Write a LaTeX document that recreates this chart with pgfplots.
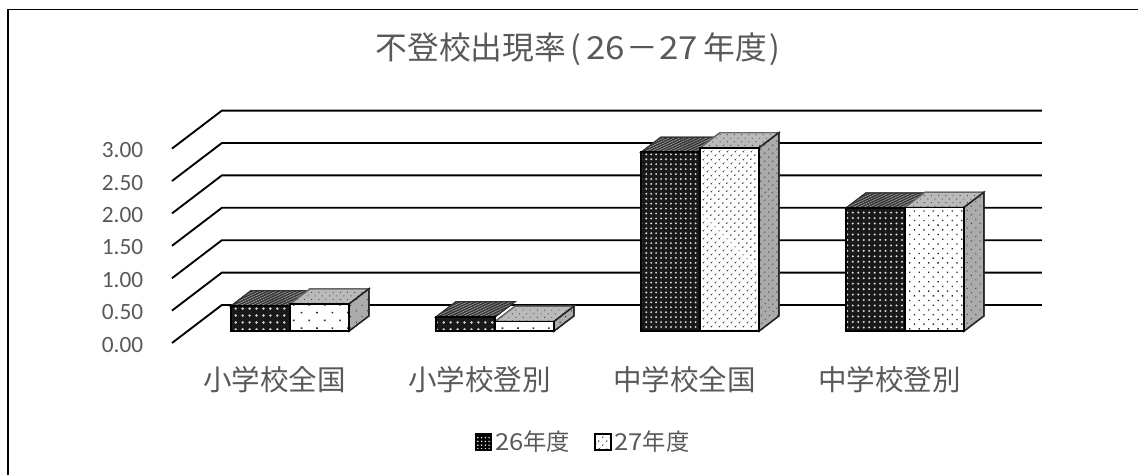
\documentclass[border=0pt]{standalone}
\usepackage{fontspec}
\usepackage{pgfplots}
\pgfplotsset{compat=1.18}
\usetikzlibrary{patterns.meta}
\setmainfont{Carlito}
\newfontfamily\cjk{Noto Sans CJK JP}
\newfontfamily\cjkwide[FakeStretch=1.1]{Noto Sans CJK JP}
\definecolor{txt}{HTML}{595959}

% oblique depth of the chart floor, in data units
\def\depthx{0.2433}
\def\depthy{0.5864}
% half a column's width in category units
\def\halfw{0.2876}

\newcommand{\shape}[2]{\addplot[forget plot,#1] coordinates {#2} --cycle;}

% one pair of columns: category, two values, dot spacing for dark, light and
% side faces, dot radius for dark and light faces
\newcommand{\barpair}[8]{%
  \pgfmathsetmacro\xa{#1+0.31*\depthx-\halfw}%
  \pgfmathsetmacro\xb{#1+0.31*\depthx}%
  \pgfmathsetmacro\xc{#1+0.31*\depthx+\halfw}%
  \pgfmathsetmacro\ya{0.31*\depthy}%
  \pgfmathsetmacro\ddx{0.4*\depthx}%
  \pgfmathsetmacro\ddy{0.4*\depthy}%
  \pgfmathsetmacro\ta{\ya+#2}%
  \pgfmathsetmacro\tb{\ya+#3}%
  \pgfmathsetmacro\xaa{\xa+\ddx}%
  \pgfmathsetmacro\xbb{\xb+\ddx}%
  \pgfmathsetmacro\xcc{\xc+\ddx}%
  \pgfmathsetmacro\taa{\ta+\ddy}%
  \pgfmathsetmacro\tbb{\tb+\ddy}%
  \pgfmathsetmacro\yaa{\ya+\ddy}%
  % top faces
  \shape{draw=black!80,line width=0.9pt,fill=black!80,postaction={pattern={Lines[angle=25,distance=1.7pt,line width=0.4pt]},pattern color=black!30}}
    {(\xa,\ta)(\xb,\ta)(\xbb,\taa)(\xaa,\taa)}
  \shape{draw=black!60,line width=0.9pt,fill=black!27,postaction={pattern={Dots[angle=45,distance=3.8pt,radius=0.5pt]},pattern color=black!70}}
    {(\xb,\tb)(\xc,\tb)(\xcc,\tbb)(\xbb,\tbb)}
  % side face
  \shape{draw=black!85,line width=1pt,fill=black!33,postaction={pattern={Dots[angle=45,distance=#6,radius=0.55pt]},pattern color=black!80}}
    {(\xc,\ya)(\xcc,\yaa)(\xcc,\tbb)(\xc,\tb)}
  % front faces
  \shape{draw=black,line width=1.4pt,fill=black!90,postaction={pattern={Dots[distance=#4,radius=#7]},pattern color=white!85!black}}
    {(\xa,\ya)(\xb,\ya)(\xb,\ta)(\xa,\ta)}
  \shape{draw=black,line width=1.1pt,fill=white,postaction={pattern={Dots[angle=45,distance=#5,radius=#8]},pattern color=black!85}}
    {(\xb,\ya)(\xc,\ya)(\xc,\tb)(\xb,\tb)}
}

\begin{document}
\begin{tikzpicture}
\path[use as bounding box] (-129pt,-99pt) rectangle (724.5pt,257.25pt);
% the frame runs along the left and top edges only
\draw[black,line width=1.3pt] (-123pt,-99pt) -- (-123pt,250.1pt) -- (724.5pt,250.1pt);
\begin{axis}[
  scale only axis,
  width=615pt,height=145.8pt,
  xmin=-0.5,xmax=3.5,ymin=0,ymax=3,
  clip=false,
  axis line style={draw=none},
  tick style={draw=none},
  major tick length=0pt,
  xtick={0,1,2,3},
  xticklabels={小学校全国,小学校登別,中学校全国,中学校登別},
  ytick={0,0.5,1,1.5,2,2.5,3},
  yticklabel style={
    /pgf/number format/fixed,
    /pgf/number format/fixed zerofill,
    /pgf/number format/precision=2,
    /pgf/number format/assume math mode=true,
    font=\fontsize{17.5pt}{20pt}\selectfont,text=txt,anchor=east,xshift=-18pt,yshift=-1.2pt},
  xticklabel style={font=\cjk\fontsize{21.4pt}{24pt}\selectfont,text=txt,anchor=center,yshift=-27.6pt},
  title={\cjk 不登校出現率\kern3pt(\kern4pt{\cjkwide 26}\kern1pt\symbol{"FF0D}\kern1pt{\cjkwide 27}\kern4pt年度\kern2pt)},
  title style={font=\fontsize{23.8pt}{26pt}\selectfont,text=txt,at={(axis description cs:0.495,1.0)},anchor=center,yshift=68.5pt},
  legend style={at={(axis description cs:0.502,-0.51)},anchor=center,draw=none,fill=none,
    font=\fontsize{17.5pt}{20pt}\selectfont,text=txt,legend columns=2,
    /tikz/every even column/.append style={column sep=16pt}},
  legend cell align=left,
]
% walls: one line per axis value, along the side wall and across the back
\pgfplotsinvokeforeach{0,0.5,1,1.5,2,2.5,3}{
  \pgfmathsetmacro\gy{#1+\depthy}
  \addplot[forget plot,black,line width=1.4pt] coordinates {(-0.5,#1)(-0.2567,\gy)(3.7433,\gy)};
}
\barpair{0}{0.39}{0.42}{5.2pt}{8.2pt}{6pt}{1pt}{0.85pt}
\barpair{1}{0.22}{0.15}{5.2pt}{8.2pt}{6pt}{1pt}{0.85pt}
\barpair{2}{2.76}{2.83}{3.7pt}{4pt}{4pt}{0.8pt}{0.65pt}
\barpair{3}{1.90}{1.91}{4.1pt}{5pt}{4.6pt}{0.85pt}{0.7pt}
\addlegendimage{legend image code/.code={\draw[draw=black,line width=1pt,fill=black,postaction={pattern={Dots[distance=2.8pt,radius=0.6pt]},pattern color=white}] (0pt,-6pt) rectangle (12pt,6pt);}}
\addlegendentry{\cjk{\cjkwide 26}年度}
\addlegendimage{legend image code/.code={\draw[draw=black,line width=1pt,fill=white,postaction={pattern={Dots[angle=45,distance=4pt,radius=0.55pt]},pattern color=black}] (0pt,-6pt) rectangle (12pt,6pt);}}
\addlegendentry{\cjk{\cjkwide 27}年度}
\end{axis}
\end{tikzpicture}
\end{document}
